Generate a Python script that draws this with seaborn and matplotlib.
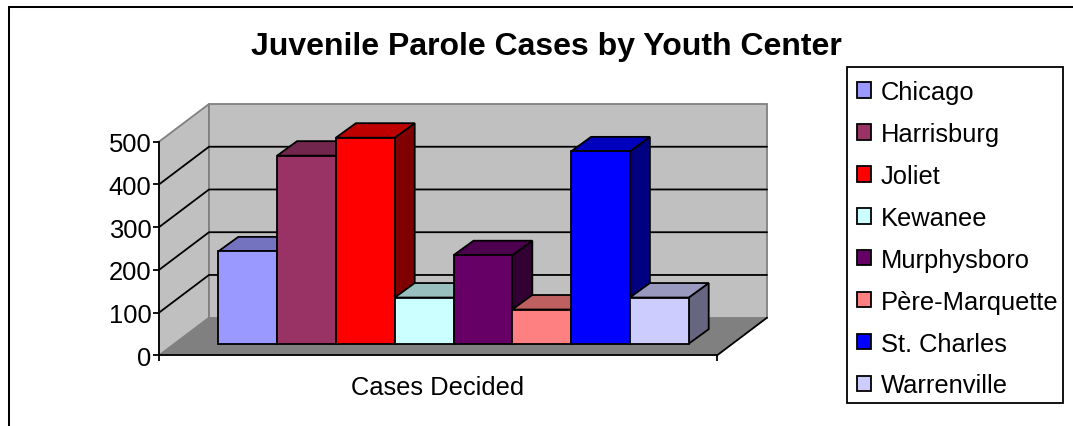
import numpy as np
import pandas as pd
import seaborn as sns
import matplotlib.pyplot as plt
from matplotlib.colors import to_rgb
from matplotlib.lines import Line2D
from matplotlib.patches import Polygon, Rectangle

# data
centers = ["Chicago", "Harrisburg", "Joliet", "Kewanee", "Murphysboro",
           "Père-Marquette", "St. Charles", "Warrenville"]
cases = [216, 440, 482, 108, 207, 80, 450, 108]
group = ["Cases Decided"] * len(centers)
bar_colors = ["#9999ff", "#993366", "#ff0000", "#ccffff", "#660066",
              "#ff8080", "#0000ff", "#ccccff"]
yticks = [0, 100, 200, 300, 400, 500]

sns.set_theme(style="white")
plt.rcParams['font.family'] = ['Liberation Sans', 'DejaVu Sans']

W, H = 1073, 427
LW = 1.3
fig = plt.figure(figsize=(W / 100, H / 100), dpi=100)
# axes = the front plane of the 3d box
left, right, top, bottom = 159, 717, 142.7, 356.4
ax = fig.add_axes([left / W, 1 - bottom / H, (right - left) / W, (bottom - top) / H])

df = pd.DataFrame({"group": group, "center": centers, "cases": cases})
sns.barplot(data=df, x="group", y="cases", hue="center", hue_order=centers,
            palette=bar_colors, width=0.843, gap=0, dodge=True, saturation=1,
            edgecolor="black", linewidth=LW, ax=ax, legend=False)
ax.set_xlim(-0.5, 0.5)
ax.set_ylim(0, 500)
ax.set_xlabel("")
ax.set_ylabel("")
ax.patch.set_alpha(0)

# depth of the box in data units (from pixels)
px_x = 1 / (right - left)
px_y = 500 / (bottom - top)
box_dx, box_dy = 50 * px_x, 37.7 * px_y
bar_dx, bar_dy = 20 * px_x, 14.5 * px_y
# bars stand a bit inside the floor
inset_x, inset_y = 15.5 * px_x, 11.7 * px_y


def poly(pts, fc, ec, lw, z):
    ax.add_patch(Polygon(pts, closed=True, facecolor=fc, edgecolor=ec, linewidth=lw,
                         zorder=z, clip_on=False, joinstyle="miter"))


xl, xr = -0.5, 0.5
ymax = yticks[-1]
# walls and floor
poly([(xl, 0), (xl + box_dx, box_dy), (xl + box_dx, ymax + box_dy), (xl, ymax)],
     "#c0c0c0", "#808080", LW, 0.5)
poly([(xl + box_dx, box_dy), (xr + box_dx, box_dy), (xr + box_dx, ymax + box_dy),
      (xl + box_dx, ymax + box_dy)], "#c0c0c0", "#808080", LW, 0.5)
poly([(xl, 0), (xr, 0), (xr + box_dx, box_dy), (xl + box_dx, box_dy)],
     "#808080", "none", 0, 0.6)
ax.plot([xr, xr + box_dx], [0, box_dy], color="black", lw=LW, zorder=0.7, clip_on=False)

# gridlines go along the side wall and the back wall
for v in yticks[1:-1]:
    ax.plot([xl, xl + box_dx, xr + box_dx], [v, v + box_dy, v + box_dy],
            color="black", lw=LW, zorder=0.8, clip_on=False)

# 3d faces of each bar, left to right so later ones cover earlier ones
bars = sorted([p for p in ax.patches if isinstance(p, Rectangle)], key=lambda b: b.get_x())
bars = [b for b in bars if b.get_height() > 0]
for i, b in enumerate(bars):
    x0 = b.get_x() + inset_x
    w = b.get_width()
    v = b.get_height()
    base = inset_y
    b.set_x(x0)
    b.set_y(base)
    b.set_clip_on(False)
    z = 2 + i
    b.set_zorder(z + 0.2)
    rgb = np.array(to_rgb(b.get_facecolor()[:3]))
    # side is half the colour, top is 3/4
    poly([(x0 + w, base), (x0 + w + bar_dx, base + bar_dy),
          (x0 + w + bar_dx, base + v + bar_dy), (x0 + w, base + v)],
         rgb * 0.5, "black", LW, z)
    poly([(x0, base + v), (x0 + w, base + v), (x0 + w + bar_dx, base + v + bar_dy),
          (x0 + bar_dx, base + v + bar_dy)], rgb * 0.75, "black", LW, z + 0.1)

# axes lines and ticks
for s in ["top", "right"]:
    ax.spines[s].set_visible(False)
for s in ["left", "bottom"]:
    ax.spines[s].set_color("black")
    ax.spines[s].set_linewidth(LW)
    ax.spines[s].set_zorder(1)
ax.set_yticks(yticks)
ax.tick_params(axis="y", left=True, length=4.5, width=LW, color="black", labelsize=18.4,
               labelcolor="black", pad=1)
ax.set_xticks([0], group[:1])
ax.set_xticks([xl, xr], minor=True)
ax.tick_params(axis="x", which="major", length=0, labelsize=18.4, labelcolor="black", pad=14)
ax.tick_params(axis="x", which="minor", bottom=True, length=4.5, width=LW, color="black")

fig.text(546.5 / W, 1 - 47 / H, "Juvenile Parole Cases by Youth Center", ha="center", va="center",
         fontsize=23.05, fontweight="bold", color="black")

# legend, the box is drawn apart since its padding is uneven
handles = [Rectangle((0, 0), 1, 1, facecolor=c, edgecolor="black", linewidth=LW) for c in bar_colors]
fig.legend(handles, centers, loc="upper left", bbox_to_anchor=(857 / W, 1 - 81.2 / H),
           bbox_transform=fig.transFigure, fontsize=18.4, frameon=False, borderaxespad=0,
           borderpad=0, labelspacing=0.70, handlelength=0.55, handleheight=0.55,
           handletextpad=0.38, labelcolor="black")
fig.add_artist(Rectangle((846.7 / W, 1 - 404 / H), 216 / W, 336.3 / H, transform=fig.transFigure,
                         facecolor="none", edgecolor="black", linewidth=LW))

# outer border, only top and left show in the crop
fig.add_artist(Line2D([1, 9 / W, 9 / W], [1 - 7.5 / H, 1 - 7.5 / H, 0], transform=fig.transFigure,
                      color="black", linewidth=1.45, solid_joinstyle="miter"))

fig.savefig("out.png", dpi=100, facecolor="white")
